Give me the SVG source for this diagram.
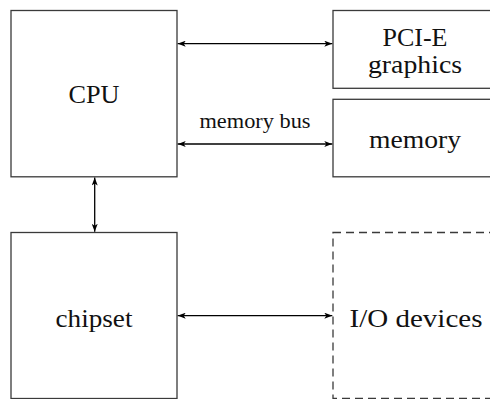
<svg xmlns="http://www.w3.org/2000/svg" width="490" height="399" viewBox="0 0 490 399">
  <style>
    .box { fill: #ffffff; stroke: #3a3a3a; stroke-width: 1.3; }
    .dashed { fill: none; stroke: #3a3a3a; stroke-width: 1.3; stroke-dasharray: 8 5; }
    text { font-family: 'Liberation Serif', 'DejaVu Serif', serif; fill: #111111; text-anchor: middle; }
    .lbl { font-size: 26px; }
    .small { font-size: 20px; }
    .conn { stroke: #000000; stroke-width: 1.3; fill: none; marker-start: url(#head); marker-end: url(#head); }
  </style>
  <defs>
    <marker id="head" viewBox="0 0 8 6" refX="8" refY="3" markerWidth="8" markerHeight="6" markerUnits="userSpaceOnUse" orient="auto-start-reverse">
      <path d="M0,0 L8,3 L0,6 L2,3 z" fill="#000000"/>
    </marker>
  </defs>
  <rect width="490" height="399" fill="#ffffff"/>

  <g id="cpu">
    <rect class="box" x="11" y="10.5" width="166" height="166.3"/>
    <text class="lbl" x="94" y="103" textLength="51" lengthAdjust="spacingAndGlyphs">CPU</text>
  </g>

  <g id="pcie">
    <rect class="box" x="333" y="10.5" width="166" height="77.8"/>
    <text class="lbl" x="415" y="46" textLength="65" lengthAdjust="spacingAndGlyphs">PCI-E</text>
    <text class="lbl" x="415" y="73" textLength="94" lengthAdjust="spacingAndGlyphs">graphics</text>
  </g>

  <g id="memory">
    <rect class="box" x="333" y="99.3" width="166" height="77.5"/>
    <text class="lbl" x="415" y="148" textLength="92" lengthAdjust="spacingAndGlyphs">memory</text>
  </g>

  <g id="chipset">
    <rect class="box" x="11" y="232.5" width="166" height="166"/>
    <text class="lbl" x="94" y="326.5" textLength="77" lengthAdjust="spacingAndGlyphs">chipset</text>
  </g>

  <g id="io">
    <rect class="dashed" x="333" y="232.5" width="166" height="166"/>
    <text class="lbl" x="416" y="326.5" textLength="133" lengthAdjust="spacingAndGlyphs">I/O devices</text>
  </g>

  <g id="connectors">
    <line class="conn" x1="177.7" y1="43.7" x2="332.3" y2="43.7"/>
    <line class="conn" x1="177.7" y1="144" x2="332.3" y2="144"/>
    <text class="small" x="255" y="128" textLength="111" lengthAdjust="spacingAndGlyphs">memory bus</text>
    <line class="conn" x1="94.7" y1="177.5" x2="94.7" y2="231.8"/>
    <line class="conn" x1="177.7" y1="315.7" x2="332.3" y2="315.7"/>
  </g>
</svg>
